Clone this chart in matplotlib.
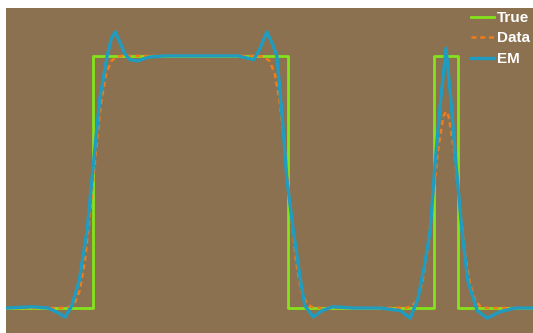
import matplotlib.pyplot as plt
import numpy as np

# true signal: two boxes
true_x = [0, 16.5, 16.5, 53.5, 53.5, 81.2, 81.2, 85.8, 85.8, 100]
true_y = [0, 0, 1, 1, 0, 0, 1, 1, 0, 0]

# blurred data
data_x = [0, 10, 11, 12, 13, 14, 15, 16, 17, 18, 19, 20, 21, 22, 23,
          48, 49, 50, 51, 52, 53, 54, 55, 56, 57, 58, 59, 60, 62,
          76, 77, 78, 79, 80, 81, 82, 83, 83.5, 84, 85, 86, 87, 88, 89, 90, 91, 92, 100]
data_y = [0, 0, 0.001, 0.004, 0.02, 0.07, 0.19, 0.39, 0.61, 0.81, 0.93, 0.98, 0.996, 1, 1,
          1, 0.996, 0.98, 0.93, 0.81, 0.61, 0.39, 0.19, 0.07, 0.02, 0.004, 0.001, 0, 0,
          0.001, 0.007, 0.03, 0.10, 0.23, 0.43, 0.63, 0.76, 0.78, 0.76, 0.63, 0.43, 0.23, 0.10, 0.03, 0.007, 0.001, 0, 0]

# EM reconstruction
em_x = [0, 5, 8, 10, 11.2, 12.5, 13.9, 15.4, 16.3, 17.8, 19.2, 20.0, 20.7, 21.5, 22.5,
        23.5, 25, 27, 30, 44, 46, 47, 48, 49.5, 50.5, 51.4, 52.4, 53.3, 54.5, 55.8,
        56.7, 58.3, 60, 62, 66, 71, 74.8, 76.7, 78.2, 79.5, 80.5, 81.4, 82.5, 83.5,
        84.4, 85.4, 86.5, 87.6, 89.4, 91.3, 93.7, 96.6, 100]
em_y = [0, 0.005, 0, -0.02, -0.036, 0.01, 0.11, 0.31, 0.51, 0.83, 1.0, 1.07, 1.095, 1.06, 1.01,
        0.985, 0.98, 0.995, 1.0, 1.0, 0.99, 0.985, 1.02, 1.095, 1.05, 1.0, 0.76, 0.51, 0.31, 0.12,
        0.01, -0.035, -0.01, 0.005, 0, 0, -0.01, -0.04, 0.04, 0.18, 0.31, 0.57, 0.83, 1.03,
        0.83, 0.57, 0.31, 0.11, -0.01, -0.04, -0.015, 0, 0]

fig = plt.figure(figsize=(5.33, 3.33), dpi=100)
ax = fig.add_axes([6/533, 0, 527/533, 325/333])
ax.set_facecolor('#8B7150')

ax.plot(true_x, true_y, color='#84E41C', lw=2, label='True')
ax.plot(data_x, data_y, color='#F07D1A', lw=1.8, dashes=(2, 1.5), label='Data')
ax.plot(em_x, em_y, color='#1F9CC0', lw=2.4, label='EM')

ax.set_xlim(0, 100)
ax.set_ylim(-0.099, 1.19)
ax.set_xticks([])
ax.set_yticks([])
for s in ax.spines.values():
    s.set_visible(False)

leg = ax.legend(loc='upper right', bbox_to_anchor=(1.0, 1.0), frameon=False,
                borderaxespad=0, borderpad=0.2, handlelength=1.5, handletextpad=0.2,
                labelspacing=0.42,
                prop={'family': 'Liberation Sans', 'weight': 'bold', 'size': 11})
for t in leg.get_texts():
    t.set_color('white')

fig.savefig('out.png', dpi=100)
